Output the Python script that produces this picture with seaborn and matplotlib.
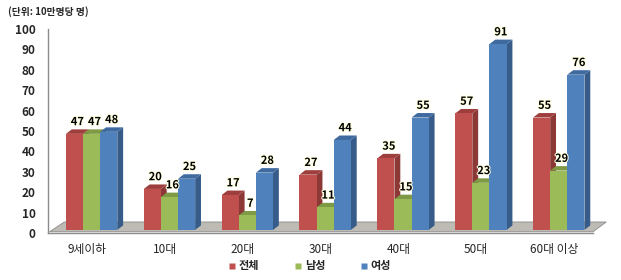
import matplotlib
matplotlib.use("Agg")
import matplotlib.pyplot as plt
import matplotlib.patheffects as pe
from matplotlib.patches import Polygon
from matplotlib.lines import Line2D
import seaborn as sns
import pandas as pd
import numpy as np

categories = ["9세이하", "10대", "20대", "30대", "40대", "50대", "60대 이상"]
total = [47, 20, 17, 27, 35, 57, 55]
male = [47, 16, 7, 11, 15, 23, 29]
female = [48, 25, 28, 44, 55, 91, 76]
series = ["전체", "남성", "여성"]
colors = ["#C0504D", "#9BBB59", "#4F81BD"]
side_colors = ["#8C3836", "#6F8A3E", "#375C8A"]
top_colors = ["#9E3F3D", "#7E9A45", "#3F6AA0"]

df = pd.DataFrame({
    "cat": categories * 3,
    "series": [s for s in series for _ in categories],
    "value": total + male + female,
})

sns.set_style("white")
plt.rcParams["font.family"] = ["Noto Sans CJK KR", "DejaVu Sans"]

fig = plt.figure(figsize=(6.21, 2.8), dpi=100)
ax = fig.add_axes([48 / 621, (280 - 233) / 280, (593 - 48) / 621, (233 - 29) / 280])

sns.barplot(data=df, x="cat", y="value", hue="series", hue_order=series,
            palette=colors, width=0.66, dodge=True, ax=ax, saturation=1,
            edgecolor="none", linewidth=0, legend=False, zorder=3)

ax.set_ylim(0, 100)
ax.set_xlim(-0.5, 6.5)

# 3D look: depth in data units, front face lifted slightly (perspective)
dx = 0.075
dy = 2.2
shift = 0.06
base = 1.5
lift = 1.6

floor = Polygon([(-0.5 + 0.02, 0.6), (6.5, 0.6), (6.5 + 0.17, 5.4), (-0.5 + 0.21, 5.4)],
                closed=True, facecolor="#BEBBB4", edgecolor="#8A8A8A", lw=0.6,
                clip_on=False, zorder=1)
ax.add_patch(floor)

for i, cont in enumerate(ax.containers):
    for bar in cont:
        val = bar.get_height()
        bar.set_x(bar.get_x() + shift)
        top_y = val + lift
        bar.set_y(base)
        bar.set_height(top_y - base)
        x0 = bar.get_x()
        w = bar.get_width()
        side = Polygon([(x0 + w, base), (x0 + w + dx, base + dy), (x0 + w + dx, top_y + dy), (x0 + w, top_y)],
                       closed=True, facecolor=side_colors[i], edgecolor="none",
                       zorder=2.9, clip_on=False)
        top = Polygon([(x0, top_y), (x0 + w, top_y), (x0 + w + dx, top_y + dy), (x0 + dx, top_y + dy)],
                      closed=True, facecolor=top_colors[i], edgecolor="none",
                      zorder=2.9, clip_on=False)
        ax.add_patch(side)
        ax.add_patch(top)
        ax.text(x0 + w / 2 + dx / 2, top_y + dy + 0.6, f"{int(round(val))}",
                ha="center", va="bottom", fontsize=8, fontweight="bold",
                color="black", zorder=5, clip_on=False,
                path_effects=[pe.withStroke(linewidth=1.5, foreground="#FFFFE0")])

for s in ["top", "right"]:
    ax.spines[s].set_visible(False)
ax.spines["left"].set_color("#8C8C8C")
ax.spines["bottom"].set_color("#8C8C8C")
ax.spines["left"].set_linewidth(1.0)
ax.spines["bottom"].set_linewidth(1.0)
ax.set_yticks(np.arange(0, 101, 10))
ax.tick_params(axis="y", direction="out", length=3, color="#8C8C8C", labelsize=8.5, pad=6)
for lab in ax.get_yticklabels():
    lab.set_fontweight("bold")
ax.set_xticks(range(len(categories)))
ax.set_xticklabels(categories, fontsize=8.5)
ax.tick_params(axis="x", length=0, pad=7)
ax.set_xticks(np.arange(-0.5, 6.6, 1.0), minor=True)
ax.tick_params(axis="x", which="minor", direction="out", length=4, color="#8C8C8C")
ax.set_xlabel("")
ax.set_ylabel("")
ax.grid(False)

fig.text(8 / 621, 1 - 12 / 280, "(단위: 10만명당 명)", fontsize=7, fontweight="bold",
         ha="left", va="center")

handles = [Line2D([0], [0], marker="s", color="none", markerfacecolor=c,
                  markeredgecolor="none", markersize=5) for c in colors]
fig.legend(handles, series, loc="center", bbox_to_anchor=(310 / 621, 1 - 266 / 280),
           ncol=3, frameon=False, handlelength=0.6, handletextpad=0.3,
           columnspacing=3.2, prop={"size": 8, "weight": "bold"})

fig.savefig("out.png", dpi=100)
